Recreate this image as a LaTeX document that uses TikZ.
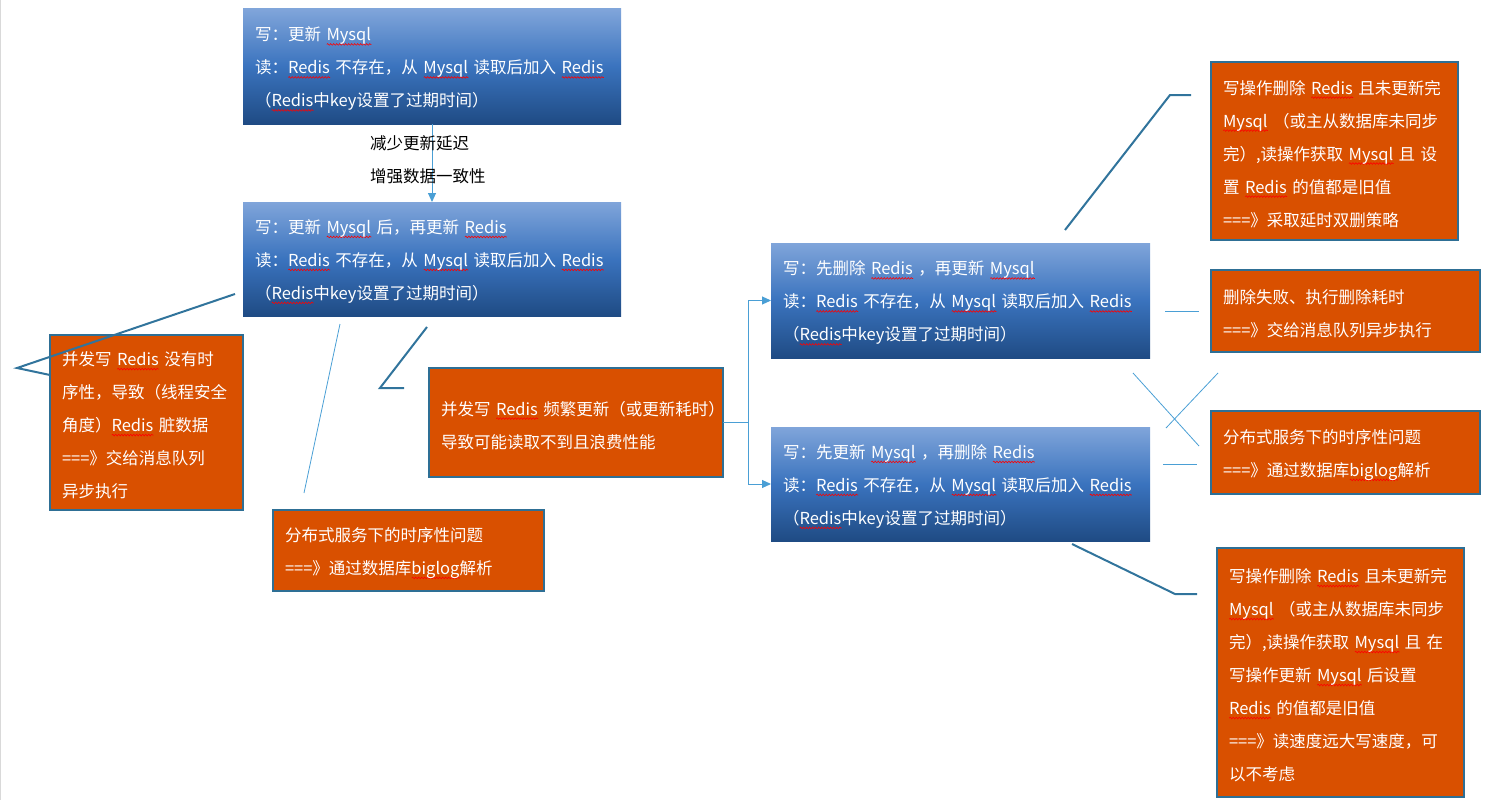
\documentclass[tikz,border=0pt]{standalone}
\usepackage{fontspec}
\setmainfont{Noto Sans CJK SC}
\usepackage{tikz}
\usetikzlibrary{arrows.meta, calc, decorations.pathmorphing}
\definecolor{arancio}{HTML}{D95000}
\definecolor{bordo}{HTML}{2E6F95}
\definecolor{bluchiaro}{HTML}{80A5DA}
\definecolor{blumedio}{HTML}{3A73BE}
\definecolor{bluscuro}{HTML}{1F4B84}
\definecolor{linea}{HTML}{31749C}
\definecolor{azzurro}{HTML}{4A9FD5}
\tikzset{onda/.style = {red, line width = 0.6pt, decorate, decoration = {snake, amplitude = 0.8pt, segment length = 3pt}}}
\newlength{\largh}
\newcommand{\ondina}[1]{\leavevmode\settowidth{\largh}{#1}\rlap{\tikz[baseline = 0pt] \draw[onda] (0pt,-3.5pt) -- (\largh,-3.5pt);}#1}

\begin{document}
\begin{tikzpicture}[x = 1pt, y = -1pt,
    scatola/.style = {anchor = north west, outer sep = 0pt, inner xsep = 12pt, inner ysep = 0pt, align = left, text = white, font = \fontsize{16.5}{33}\selectfont, execute at begin node = {\rightskip=0pt plus 1fil minus 40pt\rule{0pt}{19.5pt}}},
    misura/.style 2 args = {minimum width = #1, text width = #1-24pt, minimum height = #2},
    blu/.style = {scatola, top color = bluchiaro, bottom color = bluscuro, middle color = blumedio},
    arancione/.style = {scatola, fill = arancio, draw = bordo, line width = 2.5pt},
    etichetta/.style = {anchor = west, align = left, inner sep = 0pt, font = \fontsize{16.5}{33}\selectfont},
    freccia/.style = {azzurro, line width = 1pt, -{Triangle[length = 9pt, width = 8pt]}},
    richiamo/.style = {linea, line width = 2pt},
    sottile/.style = {azzurro, line width = 0.8pt}]
    % Cornice
    \useasboundingbox (0,0) rectangle (1499,800);
    \draw[gray!30] (0.5,0) -- (0.5,800);
    % Scatole blu
    \node[blu, misura = {378pt}{115pt}] (agg1) at (243,9) {写：更新 \ondina{Mysql}\\读：\ondina{Redis} 不存在，从 \ondina{Mysql} 读取后加入 \ondina{Redis}\\（\ondina{Redis}中key设置了过期时间）};
    \node[blu, misura = {378pt}{114pt}] (agg2) at (243,202) {写：更新 \ondina{Mysql} 后，再更新 \ondina{Redis}\\读：\ondina{Redis} 不存在，从 \ondina{Mysql} 读取后加入 \ondina{Redis}\\（\ondina{Redis}中key设置了过期时间）};
    \node[blu, misura = {379pt}{115pt}] (canc) at (771,243) {写：先删除 \ondina{Redis} ，再更新 \ondina{Mysql}\\读：\ondina{Redis} 不存在，从 \ondina{Mysql} 读取后加入 \ondina{Redis}\\（\ondina{Redis}中key设置了过期时间）};
    \node[blu, misura = {379pt}{114pt}] (aggc) at (771,427) {写：先更新 \ondina{Mysql} ，再删除 \ondina{Redis}\\读：\ondina{Redis} 不存在，从 \ondina{Mysql} 读取后加入 \ondina{Redis}\\（\ondina{Redis}中key设置了过期时间）};
    % Freccia tra le prime due
    \draw[freccia] (agg1.south) -- (agg2.north);
    \node[etichetta] (motivo) at (370,159.5) {减少更新延迟\\增强数据一致性};
    % Scatole arancioni
    \node[arancione, misura = {193pt}{175pt}] (sicA) at (50,335) {并发写 \ondina{Redis} 没有时\\序性，导致（线程安全\\角度）\ondina{Redis} 脏数据\\===》交给消息队列\\异步执行};
    \node[arancione, misura = {271pt}{81pt}] (sicB) at (273,510) {分布式服务下的时序性问题\\===》通过数据库\ondina{biglog}解析};
    \node[arancione, misura = {294pt}{109pt}] (sicC) at (429,368) {并发写 \ondina{Redis} 频繁更新（或更新耗时）\\导致可能读取不到且浪费性能};
    \node[arancione, misura = {247pt}{178pt}] (sicD) at (1211,62) {写操作删除 \ondina{Redis} 且未更新完\\\ondina{Mysql} （或主从数据库未同步\\完）,读操作获取 \ondina{Mysql} 且 设\\置 \ondina{Redis} 的值都是旧值\\===》采取延时双删策略};
    \node[arancione, misura = {269pt}{82pt}] (sicE) at (1211,270) {删除失败、执行删除耗时\\===》交给消息队列异步执行};
    \node[arancione, misura = {269pt}{83pt}] (sicF) at (1211,411) {分布式服务下的时序性问题\\===》通过数据库\ondina{biglog}解析};
    \node[arancione, misura = {247pt}{249pt}] (sicG) at (1217,548) {写操作删除 \ondina{Redis} 且未更新完\\\ondina{Mysql} （或主从数据库未同步\\完）,读操作获取 \ondina{Mysql} 且 在\\写操作更新 \ondina{Mysql} 后设置\\\ondina{Redis} 的值都是旧值\\===》读速度远大写速度，可\\以不考虑};
    % Biforcazione
    \coordinate (bivio) at ($(sicC.east)+(25,0)$);
    \draw[freccia, -] (sicC.east) -- (bivio);
    \draw[freccia] (bivio) |- (canc.west);
    \draw[freccia] (bivio) |- (aggc.west);
    % Richiami
    \coordinate (rA1) at (235,294);
    \coordinate (rA2) at (17,368);
    \coordinate (rA3) at (50,375);
    \draw[richiamo] (rA1) -- (rA2) -- (rA3);
    \coordinate (rB1) at (340,324);
    \coordinate (rB2) at (304,493);
    \draw[sottile] (rB1) -- (rB2);
    \coordinate (rC1) at (427,327);
    \coordinate (rC2) at (380,388);
    \coordinate (rC3) at (404,388);
    \draw[richiamo] (rC1) -- (rC2) -- (rC3);
    \coordinate (rD1) at (1065,230);
    \coordinate (rD2) at (1170,95);
    \coordinate (rD3) at (1191,95);
    \draw[richiamo] (rD1) -- (rD2) -- (rD3);
    \coordinate (rE1) at (1165,311);
    \coordinate (rE2) at (1199,311);
    \draw[sottile] (rE1) -- (rE2);
    \coordinate (rX1) at (1133,373);
    \coordinate (rX2) at (1199,446);
    \coordinate (rX3) at (1218,373);
    \coordinate (rX4) at (1166,428);
    \draw[sottile] (rX1) -- (rX2);
    \draw[sottile] (rX3) -- (rX4);
    \coordinate (rF1) at (1163,464);
    \coordinate (rF2) at (1197,464);
    \draw[sottile] (rF1) -- (rF2);
    \coordinate (rG1) at (1072,544);
    \coordinate (rG2) at (1175,594);
    \coordinate (rG3) at (1197,594);
    \draw[richiamo] (rG1) -- (rG2) -- (rG3);
\end{tikzpicture}
\end{document}
